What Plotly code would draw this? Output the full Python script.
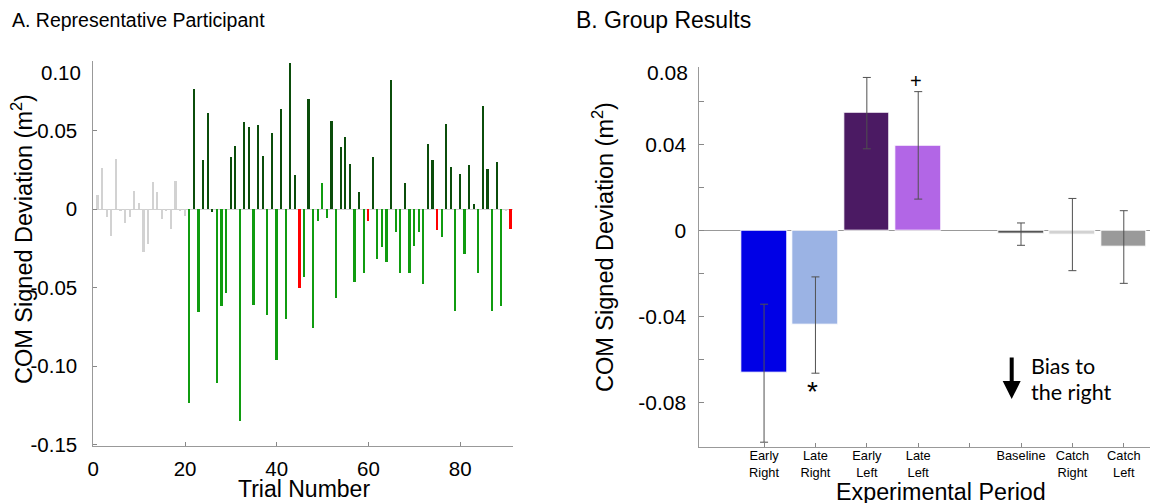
import plotly.graph_objects as go

W, H = 1157, 503

# ---------------- Panel A data ----------------
trials = list(range(1, 92))
deviation = [
    0.0091, 0.0265, -0.0047, -0.0170, 0.0318, -0.0010, -0.0085, -0.0047, 0.0117, 0.0042,
    -0.0274, -0.0223, 0.0174, 0.0108, -0.0064, -0.0010, -0.0125, 0.0178, -0.0005, -0.0040,
    -0.1236, 0.0766, -0.0658, 0.0314, 0.0615, -0.0020, -0.1110, -0.0620, -0.0535, 0.0335,
    0.0403, -0.1349, 0.0554, 0.0524, -0.0610, 0.0540, 0.0340, -0.0675, 0.0484, -0.0960,
    0.0643, -0.0697, 0.0936, 0.0218, -0.0503, -0.0429, 0.0704, -0.0756, -0.0075, 0.0165,
    -0.0057, 0.0562, -0.0565, 0.0397, 0.0462, 0.0289, -0.0463, 0.0112, -0.0408, -0.0075,
    0.0335, -0.0319, -0.0238, -0.0336, 0.0826, -0.0147, -0.0404, 0.0165, -0.0404, -0.0236,
    -0.0145, -0.0474, 0.0416, 0.0314, -0.0132, -0.0176, 0.0545, 0.0269, -0.0648, 0.0225,
    -0.0285, 0.0280, 0.0034, -0.0408, 0.0660, 0.0257, -0.0648, 0.0301, -0.0620, -0.0005,
    -0.0125,
]
trial_type = (
    ["B"] * 20
    + ["G", "D", "G", "D", "D", "D", "G", "G", "G", "D",
       "D", "G", "D", "D", "G", "D", "D", "G", "D", "G",
       "D", "G", "D", "D", "R", "G", "D", "G", "G", "G",
       "G", "D", "G", "D", "D", "D", "G", "D", "G", "R",
       "D", "G", "G", "G", "D", "G", "G", "D", "G", "G",
       "G", "G", "D", "D", "R", "G", "D", "D", "G", "D",
       "G", "D", "D", "G", "D", "D", "G", "D", "G", "B",
       "R"]
)
type_colors = {"B": "#d2d2d2", "D": "#0b4d0b", "G": "#109c10", "R": "#ff0000"}

# ---------------- Panel B data ----------------
periods = ["Early<br>Right", "Late<br>Right", "Early<br>Left", "Late<br>Left",
           "Baseline", "Catch<br>Right", "Catch<br>Left"]
means = [-0.0663, -0.0439, 0.0547, 0.0397, -0.0016, -0.0018, -0.0076]
sems = [0.0321, 0.0224, 0.0166, 0.0250, 0.0052, 0.0168, 0.0169]
period_colors = ["#0000e6", "#9bb3e4", "#4b1a63", "#b266e6", "#555555", "#d2d2d2", "#9a9a9a"]

# bar slots on the category axis (slot 5 is left empty)
slots = [1, 2, 3, 4, 6, 7, 8]


def px_x(p):
    return p / W


def px_y(p):
    return 1 - p / H


FONT = "Liberation Sans, Arial, sans-serif"

fig = go.Figure()

fig.add_trace(go.Bar(
    x=trials, y=deviation,
    marker=dict(color=[type_colors[t] for t in trial_type], line=dict(width=0)),
    width=0.48, xaxis="x", yaxis="y", showlegend=False,
))

fig.add_trace(go.Bar(
    x=slots, y=means,
    marker=dict(color=period_colors, line=dict(color="white", width=1)),
    width=0.89,
    error_y=dict(type="data", array=sems, visible=True, color="#505050",
                 thickness=1, width=4),
    xaxis="x2", yaxis="y2", showlegend=False,
))

fig.update_layout(
    width=W, height=H, autosize=False,
    margin=dict(l=0, r=0, t=0, b=0, pad=0, autoexpand=False),
    paper_bgcolor="white", plot_bgcolor="white",
    font=dict(family=FONT, color="black"),
    bargap=0,
    xaxis=dict(
        domain=[px_x(93.3), px_x(513)], range=[0, 91.5], automargin=False,
        tickvals=[0, 20, 40, 60, 80], ticks="inside", ticklen=4, tickcolor="#888",
        showline=True, linecolor="#999", linewidth=1, showgrid=False, zeroline=False,
        tickfont=dict(family=FONT, size=20.5, color="black"), ticklabelstandoff=5,
    ),
    yaxis=dict(
        domain=[px_y(445.7), px_y(61)], range=[-0.1508, 0.0946], automargin=False,
        tickvals=[-0.15, -0.10, -0.05, 0, 0.05],
        ticktext=["-0.15", "-0.10", "-0.05", "0", "0.05"],
        ticks="inside", ticklen=4, tickcolor="#888",
        showline=True, linecolor="#999", linewidth=1, showgrid=False,
        zeroline=True, zerolinecolor="#d0d0d0", zerolinewidth=1,
        tickfont=dict(family=FONT, size=20.5, color="black"), ticklabelstandoff=11,
    ),
    xaxis2=dict(
        domain=[px_x(699.3), px_x(1150)], range=[-0.26, 8.51], anchor="y2", automargin=False,
        tickvals=[1, 2, 3, 4, 5, 6, 7, 8],
        ticktext=periods[:4] + [""] + periods[4:],
        ticks="inside", ticklen=4, tickcolor="#888",
        showline=True, linecolor="#999", linewidth=1, showgrid=False, zeroline=False,
        tickfont=dict(family=FONT, size=12.8, color="black"), ticklabelstandoff=-3,
    ),
    yaxis2=dict(
        domain=[px_y(446.7), px_y(66.7)], range=[-0.1005, 0.0763], anchor="x2", automargin=False,
        tickvals=[-0.08, -0.06, -0.04, -0.02, 0, 0.02, 0.04, 0.06],
        ticktext=["-0.08", "", "-0.04", "", "0", "", "0.04", ""],
        ticks="inside", ticklen=5, tickcolor="#888",
        showline=True, linecolor="#999", linewidth=1, showgrid=False,
        zeroline=True, zerolinecolor="#999", zerolinewidth=1,
        tickfont=dict(family=FONT, size=21, color="black"), ticklabelstandoff=8,
    ),
)

ann = []


def text(x, y, s, size, xanchor="center", yanchor="middle", angle=0, family=FONT):
    ann.append(dict(x=px_x(x), y=px_y(y), xref="paper", yref="paper", text=s,
                    showarrow=False, xanchor=xanchor, yanchor=yanchor, textangle=angle,
                    font=dict(family=family, size=size, color="black")))


text(10, 20, "A. Representative Participant", 19.5, xanchor="left")
text(574, 20, "B. Group Results", 23, xanchor="left")
text(22, 239, "COM Signed Deviation (m<sup>2</sup>)", 23.5, angle=-90)
text(603, 247, "COM Signed Deviation (m<sup>2</sup>)", 23.5, angle=-90)
text(304, 489, "Trial Number", 23)
text(941, 492, "Experimental Period", 23.3)
# top tick labels drawn inside the axes
text(83, 72, "0.10", 20.5, xanchor="right")
text(690, 73, "0.08", 21, xanchor="right")
# significance markers
text(812, 391, "*", 28)
text(915.7, 81, "+", 20)
# bias note
text(1029, 366, "Bias to", 21.5, xanchor="left", family="Lato, sans-serif")
text(1029, 392, "the right", 21.5, xanchor="left", family="Lato, sans-serif")
ann.append(dict(x=px_x(1011.7), y=px_y(399), xref="paper", yref="paper",
                ax=0, ay=-43, axref="pixel", ayref="pixel",
                showarrow=True, arrowhead=2, arrowsize=0.9, arrowwidth=4,
                arrowcolor="black", text=""))

fig.update_layout(annotations=ann)

fig.write_html("out.html")
